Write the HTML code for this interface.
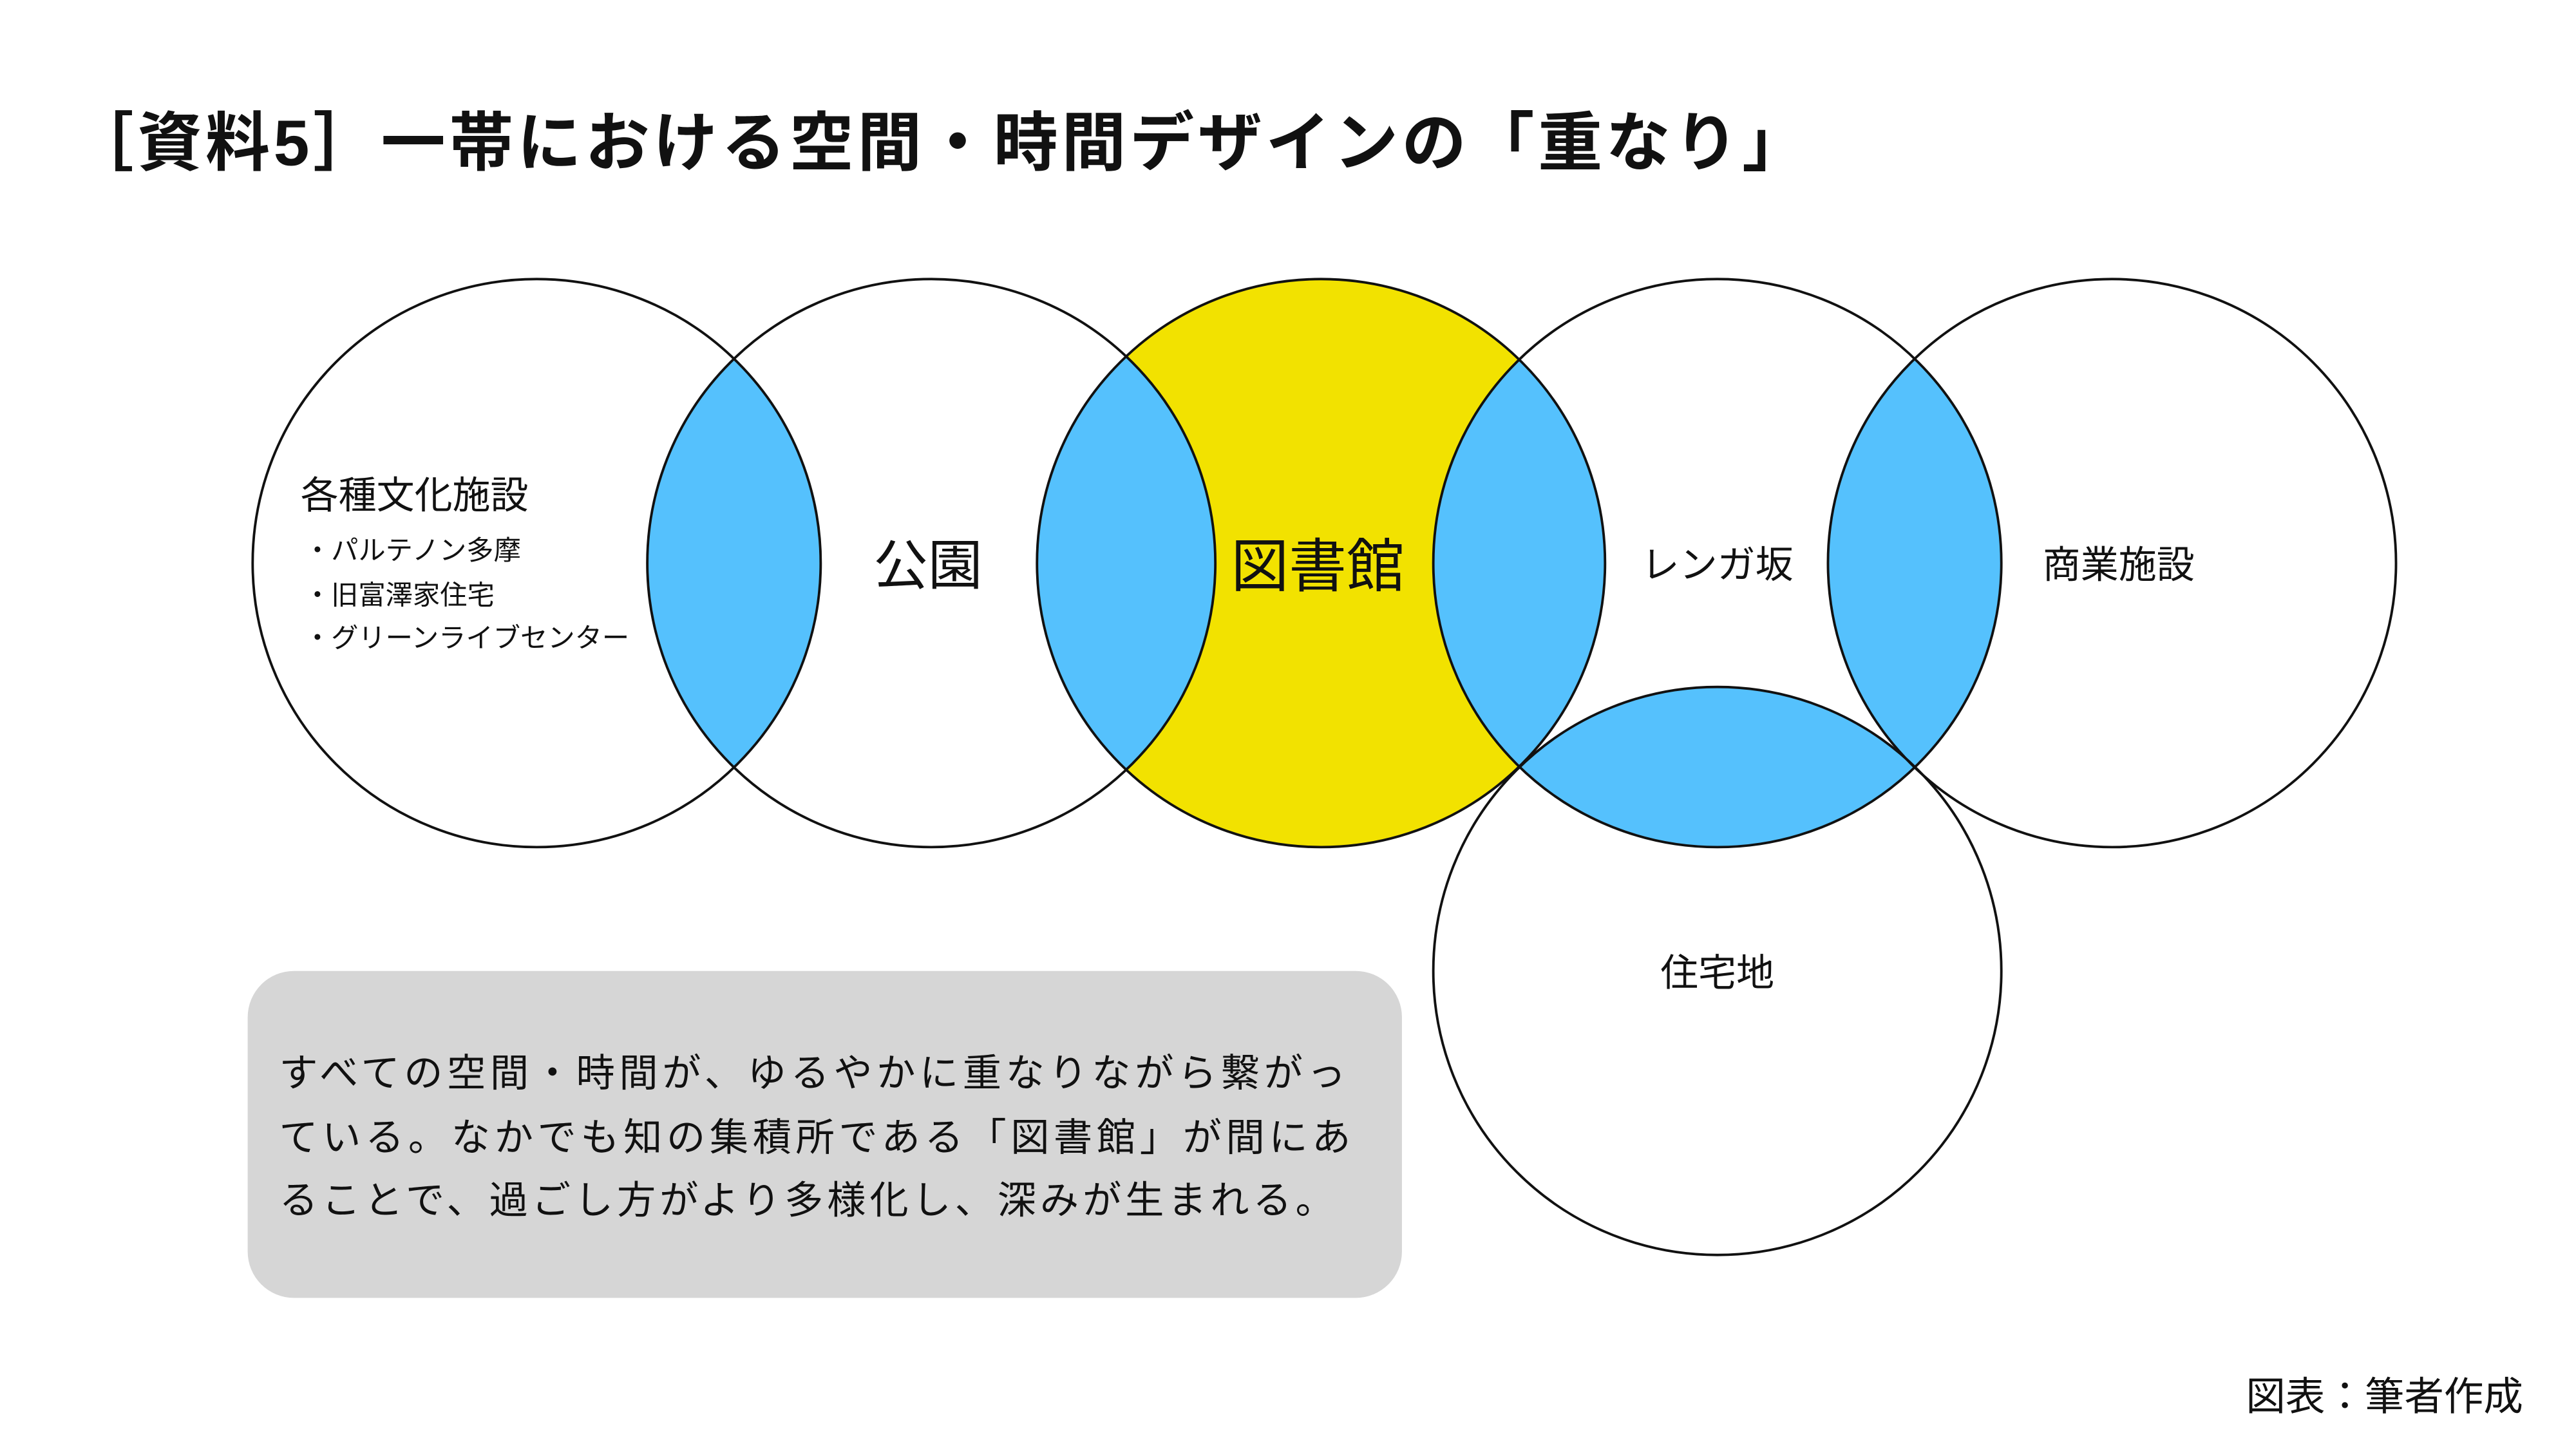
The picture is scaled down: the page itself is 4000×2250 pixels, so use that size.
<!DOCTYPE html>
<html><head><meta charset="utf-8"><style>
html,body{margin:0;padding:0;background:#fff;}
svg{display:block;}
text{font-family:"Liberation Sans","Noto Sans CJK JP",sans-serif;fill:#111;}
</style></head><body>
<svg width="4000" height="2250" viewBox="0 0 1560 877.5" xmlns="http://www.w3.org/2000/svg">
<defs>
<clipPath id="c1"><circle cx="325" cy="341" r="172"/></clipPath>
<clipPath id="c2"><circle cx="564" cy="341" r="172"/></clipPath>
<clipPath id="c3"><circle cx="800" cy="341" r="172"/></clipPath>
<clipPath id="c4"><circle cx="1040" cy="341" r="172"/></clipPath>
<clipPath id="c5"><circle cx="1279" cy="341" r="172"/></clipPath>
</defs>
<rect width="1560" height="877.5" fill="#fff"/>
<text x="42" y="100" font-size="39" font-weight="bold" textLength="1052">［資料5］一帯における空間・時間デザインの「重なり」</text>

<circle cx="800" cy="341" r="172" fill="#f2e200"/>
<circle cx="564" cy="341" r="172" fill="#55c1fd" clip-path="url(#c1)"/>
<circle cx="800" cy="341" r="172" fill="#55c1fd" clip-path="url(#c2)"/>
<circle cx="1040" cy="341" r="172" fill="#55c1fd" clip-path="url(#c3)"/>
<circle cx="1279" cy="341" r="172" fill="#55c1fd" clip-path="url(#c4)"/>
<circle cx="1040" cy="588" r="172" fill="#55c1fd" clip-path="url(#c4)"/>

<g fill="none" stroke="#111" stroke-width="1.5">
<circle cx="325" cy="341" r="172"/>
<circle cx="564" cy="341" r="172"/>
<circle cx="800" cy="341" r="172"/>
<circle cx="1040" cy="341" r="172"/>
<circle cx="1279" cy="341" r="172"/>
<circle cx="1040" cy="588" r="172"/>
</g>

<text x="182" y="308" font-size="23">各種文化施設</text>
<text x="184" y="339" font-size="16.5">・パルテノン多摩</text>
<text x="184" y="366" font-size="16.5">・旧富澤家住宅</text>
<text x="184" y="392" font-size="16.5">・グリーンライブセンター</text>
<text x="562" y="354" font-size="33" text-anchor="middle">公園</text>
<text x="798" y="355" font-size="35" text-anchor="middle">図書館</text>
<text x="1040" y="350" font-size="23" text-anchor="middle">レンガ坂</text>
<text x="1283" y="350" font-size="23" text-anchor="middle">商業施設</text>
<text x="1040" y="597" font-size="23" text-anchor="middle">住宅地</text>

<rect x="150" y="588" width="699" height="198" rx="28" fill="#d6d6d6"/>
<text x="169" y="658" font-size="23.5" textLength="646">すべての空間・時間が、ゆるやかに重なりながら繋がっ</text>
<text x="169" y="697" font-size="23.5" textLength="649">ている。なかでも知の集積所である「図書館」が間にあ</text>
<text x="169" y="735" font-size="23.5" textLength="639">ることで、過ごし方がより多様化し、深みが生まれる。</text>

<text x="1528" y="854" font-size="24" text-anchor="end">図表：筆者作成</text>
</svg>
</body></html>
